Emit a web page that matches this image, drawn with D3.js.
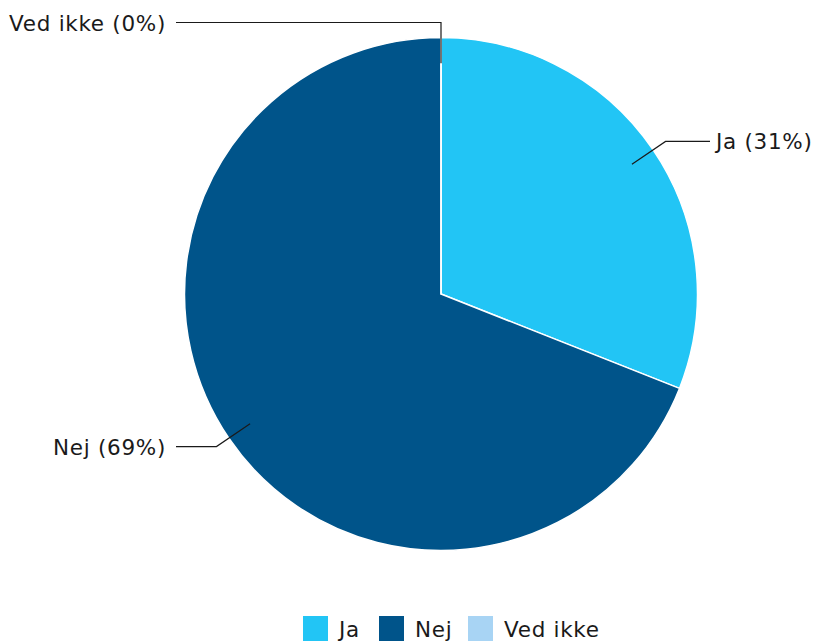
<!DOCTYPE html>
<html>
<head>
<meta charset="utf-8">
<script src="https://cdn.jsdelivr.net/npm/d3@7"></script>
<style>
  body { margin: 0; background: #fff; }
  text { font-family: Verdana, "DejaVu Sans", sans-serif; fill: #1a1a1a; letter-spacing: 0.7px; }
</style>
</head>
<body>
<svg id="chart" width="819" height="641"></svg>
<script>
// DATA
var categories = ['Ja', 'Nej', 'Ved ikke'];
var values = [31, 69, 0];
var colors = ['#22c5f5', '#00548a', '#a8d4f4'];

// SIZES
var width = 819, height = 641;
var cx = 441, cy = 294, radius = 256.5;

var svg = d3.select('#chart');

var data = categories.map(function(c, i) { return {name: c, value: values[i], color: colors[i]}; });

var pie = d3.pie().sort(null).value(function(d) { return d.value; });
var arcs = pie(data);

var arc = d3.arc().innerRadius(0).outerRadius(radius);
var innerArc = d3.arc().innerRadius(radius * 0.9).outerRadius(radius * 0.9);
var elbowArc = d3.arc().innerRadius(radius + 15).outerRadius(radius + 15);

var g = svg.append('g').attr('transform', 'translate(' + cx + ',' + cy + ')');

// Slices
g.selectAll('path.slice')
  .data(arcs)
  .enter().append('path')
  .attr('class', 'slice')
  .attr('d', arc)
  .style('fill', function(d) { return d.data.color; })
  .style('stroke', '#fff')
  .style('stroke-width', 1.5)
  .style('stroke-linejoin', 'round');

// Leader lines + labels
arcs.forEach(function(d) {
  var a = (d.startAngle + d.endAngle) / 2;
  var p0 = innerArc.centroid(d);
  var p1 = elbowArc.centroid(d);
  var right = Math.sin(a) > 0.001;
  var endX = right ? 269 : -265;
  g.append('path')
    .attr('d', 'M' + p0[0] + ',' + p0[1] + 'L' + p1[0] + ',' + p1[1] + 'L' + endX + ',' + p1[1])
    .style('fill', 'none')
    .style('stroke', '#1a1a1a')
    .style('stroke-width', 1.2);
  g.append('text')
    .attr('x', right ? endX + 6 : endX - 10)
    .attr('y', p1[1] + 8)
    .attr('text-anchor', right ? 'start' : 'end')
    .style('font-size', '21.5px')
    .text(d.data.name + ' (' + d.data.value + '%)');
});

// Legend
var legendX = [303, 379, 468];
var legend = svg.append('g').attr('class', 'legend');
data.forEach(function(d, i) {
  legend.append('rect')
    .attr('x', legendX[i])
    .attr('y', 616)
    .attr('width', 25)
    .attr('height', 25)
    .style('fill', d.color);
  legend.append('text')
    .attr('x', legendX[i] + 36)
    .attr('y', 637)
    .style('font-size', '21.5px')
    .text(d.name);
});
</script>
</body>
</html>
